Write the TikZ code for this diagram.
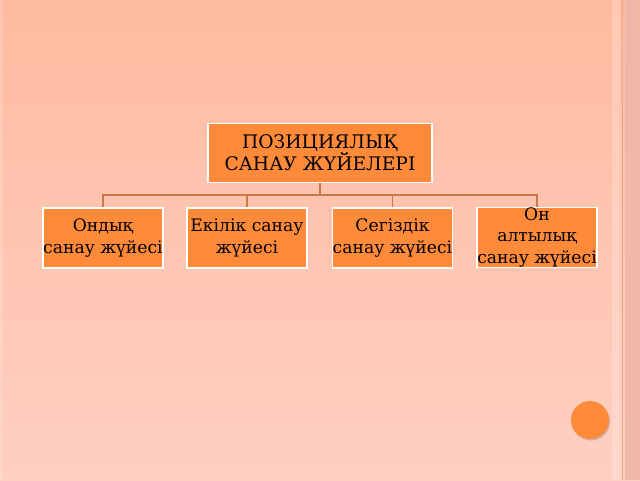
\documentclass[tikz,border=0pt]{standalone}
\usepackage{fontspec}
\setmainfont{DejaVu Serif}
\usepackage{tikz}
\usetikzlibrary{positioning,calc,shadows}

\definecolor{bgtop}{HTML}{FFBBA0}
\definecolor{bgbot}{HTML}{FFCFC2}
\definecolor{boxfill}{HTML}{FF8B3A}
\definecolor{linkcol}{HTML}{C8784C}
\definecolor{stripcol}{HTML}{F0B8A8}

\begin{document}
\begin{tikzpicture}[
    x=1pt, y=-1pt,
    every node/.style={font=\fontsize{17.2}{21.5}\selectfont, text=black, align=center, inner sep=0pt},
    sysbox/.style={rectangle, draw=white, line width=1.4pt, fill=boxfill, minimum width=120pt, minimum height=60pt},
    link/.style={draw=linkcol, line width=1.3pt}
]
    % background
    \useasboundingbox (0,0) rectangle (640,480);
    \shade[top color=bgtop, bottom color=bgbot] (0,0) rectangle (640,480);
    \fill[white, opacity=0.15] (0,0) rectangle (3,480);
    \fill[white, opacity=0.2] (612,0) rectangle (620,480);
    \fill[stripcol] (625,0) rectangle (640,480);
    \draw[linkcol!60, line width=1pt] (622.5,0) -- (622.5,480);

    % boxes
    \node[sysbox, minimum width=224pt, minimum height=59pt, font=\fontsize{18.7}{20.5}\selectfont] (root) at (320,153) {ПОЗИЦИЯЛЫҚ\\САНАУ ЖҮЙЕЛЕРІ};
    \node[sysbox] (dec) at (103,238) {Ондық\\санау жүйесі};
    \node[sysbox] (bin) at (247,238) {Екілік санау\\жүйесі};
    \node[sysbox, minimum width=119pt] (oct) at (392.5,238) {Сегіздік\\санау жүйесі};
    \node[sysbox] (hex) at (537,237.5) {Он\\алтылық\\санау жүйесі};

    % connectors
    \coordinate (fork) at (320,195);
    \draw[link] (root.south) -- (fork);
    \draw[link] (fork) -| (dec.north);
    \draw[link] (fork) -| (bin.north);
    \draw[link] (fork) -| (oct.north);
    \draw[link] (fork) -| (hex.north);

    % button
    \node[circle, fill=boxfill, minimum size=38pt, drop shadow={shadow xshift=1pt, shadow yshift=-1.5pt, opacity=0.4}] (btn) at (590,420) {};
\end{tikzpicture}
\end{document}
